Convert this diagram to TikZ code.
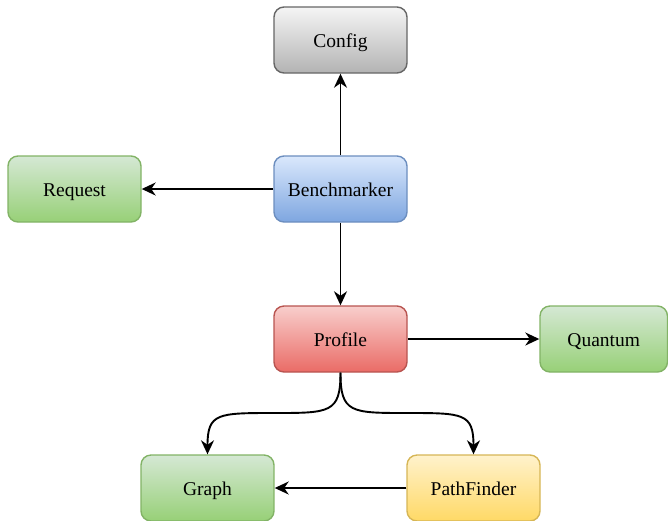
\documentclass[tikz,border=0pt]{standalone}
\usepackage{fontspec}
\setmainfont{Liberation Serif}
\usetikzlibrary{arrows.meta}
\definecolor{grayT}{HTML}{F5F5F5}\definecolor{grayB}{HTML}{B3B3B3}\definecolor{grayS}{HTML}{666666}
\definecolor{greenT}{HTML}{D5E8D4}\definecolor{greenB}{HTML}{97D077}\definecolor{greenS}{HTML}{82B366}
\definecolor{blueT}{HTML}{DAE8FC}\definecolor{blueB}{HTML}{7EA6E0}\definecolor{blueS}{HTML}{6C8EBF}
\definecolor{redT}{HTML}{F8CECC}\definecolor{redB}{HTML}{EA6B66}\definecolor{redS}{HTML}{B85450}
\definecolor{yelT}{HTML}{FFF2CC}\definecolor{yelB}{HTML}{FFD966}\definecolor{yelS}{HTML}{D6B656}
\tikzset{
  box/.style={rounded corners=10pt, line width=1.4pt, minimum width=133pt, minimum height=66pt,
    inner sep=0pt, text height=20.4pt, text depth=5pt, font=\fontsize{19.5}{23}\selectfont, text=black},
  graybox/.style={box, draw=grayS, top color=grayT, bottom color=grayB},
  greenbox/.style={box, draw=greenS, top color=greenT, bottom color=greenB},
  bluebox/.style={box, draw=blueS, top color=blueT, bottom color=blueB},
  redbox/.style={box, draw=redS, top color=redT, bottom color=redB},
  yelbox/.style={box, draw=yelS, top color=yelT, bottom color=yelB},
  conn/.style={line width=1.9pt, -{Stealth[length=14pt, width=13pt, inset=4.5pt]}}
}
\begin{document}
\begin{tikzpicture}[x=1pt, y=-1pt]
\useasboundingbox (0,0) rectangle (668,520);
\node[graybox] (config) at (340.5,40) {Config};
\node[greenbox] (request) at (74.5,189) {Request};
\node[bluebox] (bench) at (340.5,189) {Benchmarker};
\node[redbox] (profile) at (340.5,339) {Profile};
\node[greenbox, minimum width=127.5pt] (quantum) at (603.75,339) {Quantum};
\node[greenbox] (graph) at (207.5,488) {Graph};
\node[yelbox] (path) at (473.5,488) {PathFinder};
\draw[conn] (bench.north) -- (config.south);
\draw[conn] (bench.west) -- (request.east);
\draw[conn] (bench.south) -- (profile.north);
\draw[conn] (profile.east) -- (quantum.west);
\draw[conn] (path.west) -- (graph.east);
\draw[conn] (profile.south) .. controls (340.5,413) and (330,413) .. (274,413)
  .. controls (218,413) and (207.5,413) .. (graph.north);
\draw[conn] (profile.south) .. controls (340.5,413) and (351,413) .. (407,413)
  .. controls (463,413) and (473.5,413) .. (path.north);
\end{tikzpicture}
\end{document}
